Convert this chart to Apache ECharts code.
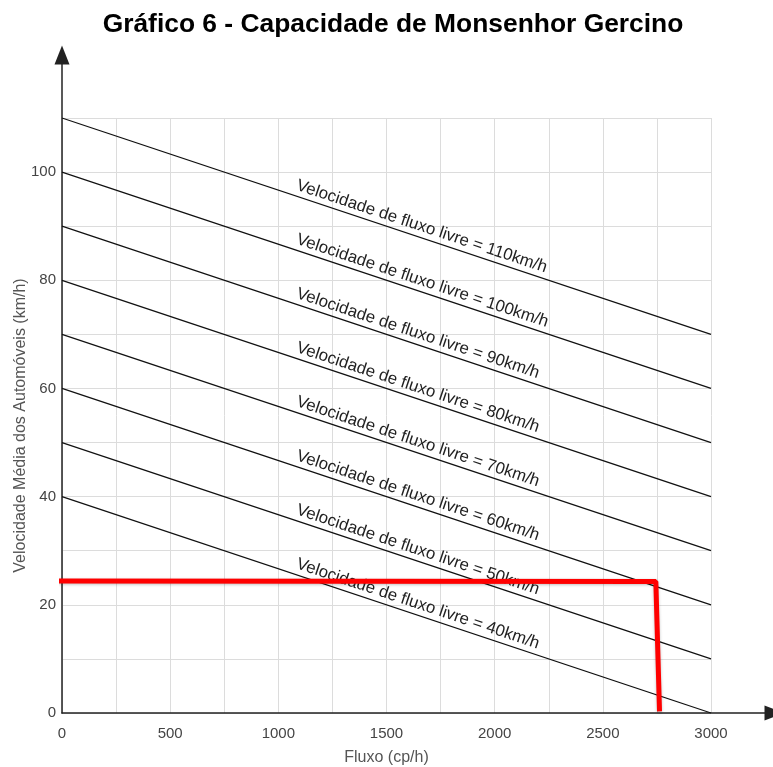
<!DOCTYPE html>
<html>
<head>
<meta charset="utf-8">
<script src="https://cdn.jsdelivr.net/npm/echarts@6/dist/echarts.min.js"></script>
<style>
html,body{margin:0;padding:0;background:#fff;}
#chart{width:773px;height:767px;}
</style>
</head>
<body>
<div id="chart"></div>
<script>
// ---- data ----
const titleText = 'Gráfico 6 - Capacidade de Monsenhor Gercino';
const xName = 'Fluxo (cp/h)';
const yName = 'Velocidade Média dos Automóveis (km/h)';
const xTickLabels = [0, 500, 1000, 1500, 2000, 2500, 3000];
const yTickLabels = [0, 20, 40, 60, 80, 100];
const freeFlowSpeeds = [110, 100, 90, 80, 70, 60, 50, 40];
const lineFlows = [0, 3000];
const startSpeeds = [110, 100, 90, 80, 70, 60, 50, 40];
const endSpeeds = [70, 60, 50, 40, 30, 20, 10, 0];
const redFlows = [-15, 2745, 2762];
const redSpeeds = [24.4, 24.3, 0.3];

const FONT = '"Liberation Sans", Arial, sans-serif';
const chart = echarts.init(document.getElementById('chart'));

const series = freeFlowSpeeds.map((ffs, i) => ({
  type: 'line',
  xAxisIndex: 0, yAxisIndex: 0,
  showSymbol: true,
  symbol: 'circle',
  symbolSize: 0,
  silent: true,
  lineStyle: { color: '#111', width: 1.3 },
  itemStyle: { color: '#111' },
  data: [
    {
      value: [lineFlows[0], startSpeeds[i]],
      label: {
        show: true,
        formatter: 'Velocidade de fluxo livre = ' + ffs + 'km/h',
        rotate: -18.4,
        align: 'left',
        verticalAlign: 'bottom',
        position: [0, 0],
        offset: [244, -2],
        fontSize: 16.8,
        fontFamily: FONT,
        color: '#222'
      }
    },
    [lineFlows[1], endSpeeds[i]]
  ],
  z: 3
}));

series.push({
  type: 'line',
  xAxisIndex: 0, yAxisIndex: 0,
  symbol: 'none',
  clip: false,
  silent: true,
  lineStyle: { color: '#ff0000', width: 5, shadowColor: 'rgba(0,0,0,0.25)', shadowBlur: 3, shadowOffsetY: 1 },
  data: redFlows.map((f, i) => [f, redSpeeds[i]]),
  z: 5
});

chart.setOption({
  animation: false,
  backgroundColor: '#fff',
  title: {
    text: titleText,
    left: 388,
    textAlign: 'center',
    top: 7,
    textStyle: { fontSize: 26.4, fontWeight: 'bold', color: '#000', fontFamily: FONT }
  },
  grid: [
    { left: 62, right: 62, top: 118, bottom: 54, containLabel: false, outerBoundsMode: 'none' },
    { left: 62, right: -1, top: 55, bottom: 54, containLabel: false, outerBoundsMode: 'none' }
  ],
  xAxis: [
    {
      type: 'value', gridIndex: 0, min: 0, max: 3000, interval: 250,
      name: xName, nameLocation: 'middle', nameGap: 37, nameMoveOverlap: false,
      nameTextStyle: { fontSize: 16, color: '#555', fontFamily: FONT },
      axisLine: { show: false },
      axisTick: { show: false },
      axisLabel: {
        margin: 13, fontSize: 15, color: '#444', fontFamily: FONT,
        formatter: v => xTickLabels.includes(v) ? String(v) : ''
      },
      splitLine: { show: true, lineStyle: { color: '#dcdcdc', width: 1 } }
    },
    {
      type: 'value', gridIndex: 1, min: 0, max: 1,
      axisLine: { show: true, symbol: ['none', 'triangle'], symbolSize: [15, 19], lineStyle: { color: '#222', width: 1.5 } },
      axisTick: { show: false }, axisLabel: { show: false }, splitLine: { show: false }
    }
  ],
  yAxis: [
    {
      type: 'value', gridIndex: 0, min: 0, max: 110, interval: 10,
      name: yName, nameLocation: 'middle', nameGap: 33, nameMoveOverlap: false,
      nameTextStyle: { fontSize: 16, color: '#555', fontFamily: FONT, padding: [0, 20, 0, 0] },
      axisLine: { show: false },
      axisTick: { show: false },
      axisLabel: {
        margin: 6, fontSize: 15, color: '#444', fontFamily: FONT,
        formatter: v => yTickLabels.includes(v) ? String(v) : ''
      },
      splitLine: { show: true, lineStyle: { color: '#dcdcdc', width: 1 } }
    },
    {
      type: 'value', gridIndex: 1, min: 0, max: 1,
      axisLine: { show: true, symbol: ['none', 'triangle'], symbolSize: [15, 19], lineStyle: { color: '#222', width: 1.5 } },
      axisTick: { show: false }, axisLabel: { show: false }, splitLine: { show: false }
    }
  ],
  series: series
});
</script>
</body>
</html>
